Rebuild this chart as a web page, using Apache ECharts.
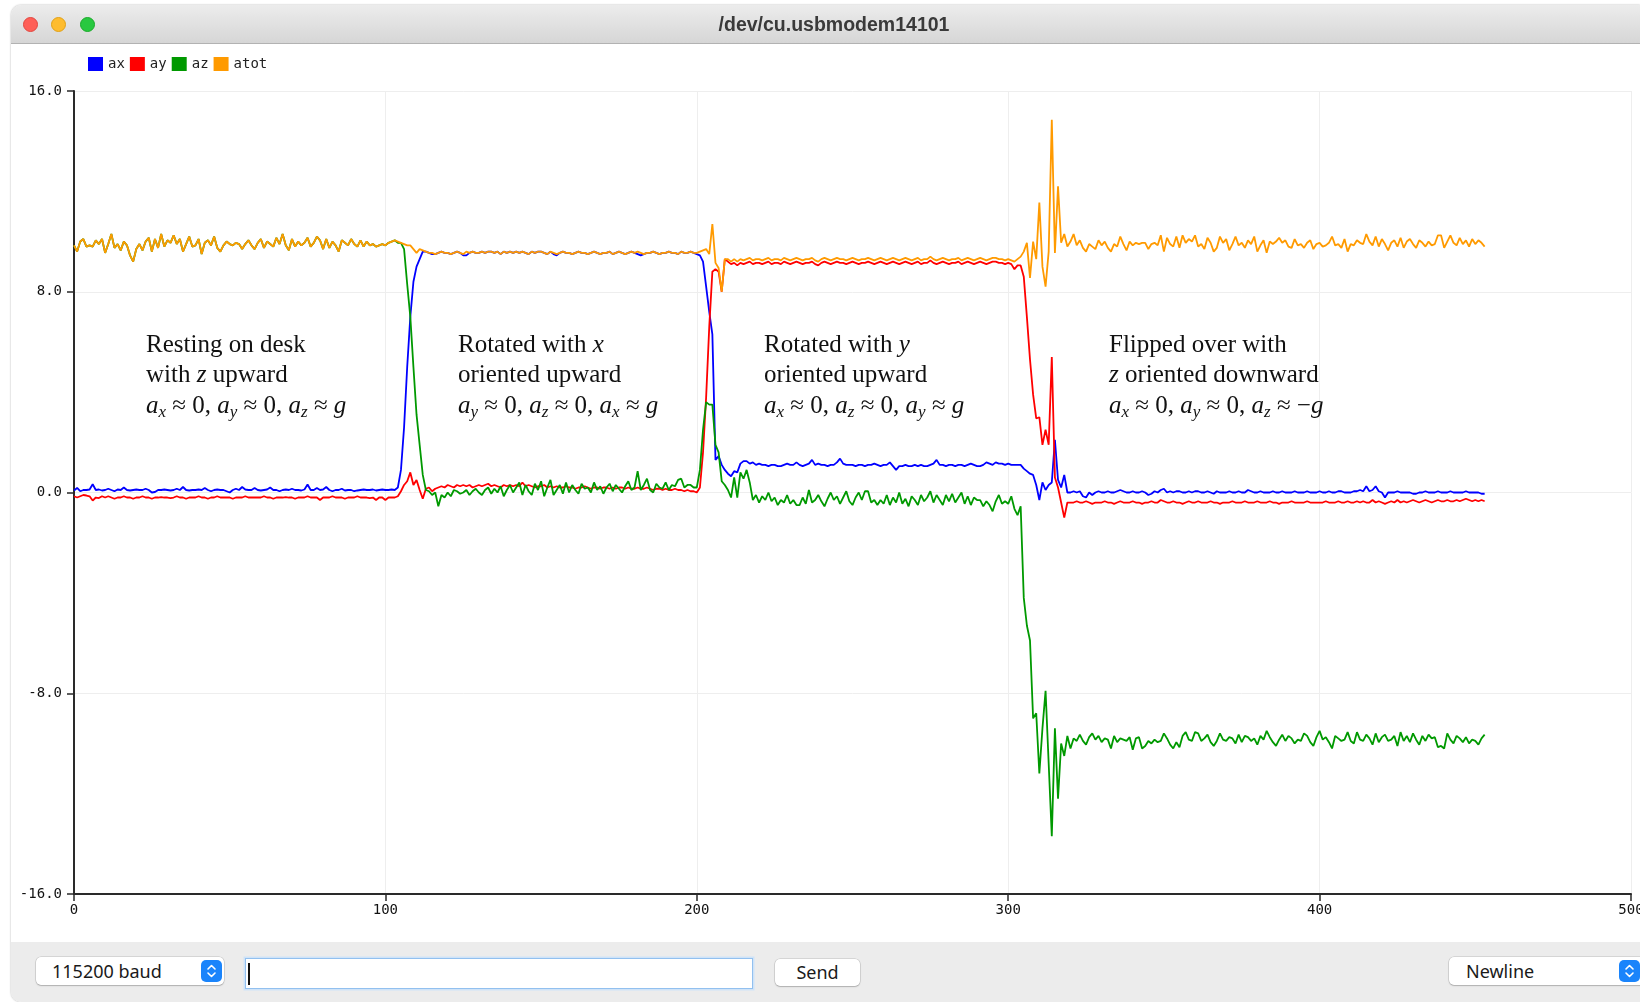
<!DOCTYPE html>
<html>
<head>
<meta charset="utf-8">
<title>/dev/cu.usbmodem14101</title>
<script src="https://cdn.jsdelivr.net/npm/echarts@6/dist/echarts.min.js"></script>
<style>
  html, body { margin: 0; padding: 0; background: #fff; }
  body { width: 1640px; height: 1002px; position: relative; overflow: hidden; font-family: "Noto Sans", "Liberation Sans", sans-serif; }
  .frame { position: absolute; left: 11px; top: 5px; right: 0; bottom: 0; background: #fff; border-radius: 10px 0 0 10px; box-shadow: 0 0 2px rgba(0,0,0,.35); }
  #chart { position: absolute; left: 0; top: 0; width: 1640px; height: 1002px; }
  .titlebar { position: absolute; left: 11px; top: 5px; right: 0; height: 38px; background: linear-gradient(#ececec, #d6d6d6); border-bottom: 1px solid #b2b2b2; border-radius: 10px 0 0 0; }
  .light { position: absolute; top: 12px; width: 15px; height: 15px; border-radius: 50%; box-sizing: border-box; }
  .title { position: absolute; left: 823px; top: 8px; transform: translateX(-50%); font-family: "Liberation Sans", sans-serif; font-weight: bold; font-size: 19.5px; color: #3a3a3a; white-space: nowrap; }
  .bottombar { position: absolute; left: 11px; top: 942px; right: 0; height: 60px; background: #ececec; border-radius: 0 0 0 10px; }
  .box { position: absolute; background: #fff; border-radius: 5px; box-shadow: 0 0 0 0.5px rgba(0,0,0,.18), 0 1px 1.5px rgba(0,0,0,.18); font-size: 18px; color: #1a1a1a; line-height: 28px; box-sizing: border-box; white-space: nowrap; overflow: hidden; }
  .stepper { position: absolute; width: 21px; height: 22px; border-radius: 5px; background: #1a84fb; }
  .input { position: absolute; left: 245px; top: 958px; width: 508px; height: 31px; box-sizing: border-box; background: #fff; border: 1.5px solid #92c0ef; box-shadow: 0 0 0 1.5px #cfe3f8; }
  .caret { position: absolute; left: 248px; top: 963px; width: 1.5px; height: 22px; background: #111; }
</style>
</head>
<body>
<div class="frame"></div>
<div id="chart"></div>
<div class="titlebar">
  <div class="light" style="left:12px;background:#fe5f57;border:0.5px solid #e2463f"></div>
  <div class="light" style="left:40px;background:#febc2e;border:0.5px solid #e1a116"></div>
  <div class="light" style="left:69px;background:#28c840;border:0.5px solid #1aab29"></div>
  <div class="title">/dev/cu.usbmodem14101</div>
</div>
<div class="bottombar"></div>
<div class="box" style="left:36px;top:957px;width:188px;height:28px;padding-left:16px">115200 baud</div>
<svg class="stepper" style="left:201px;top:960px" viewBox="0 0 21 22"><path d="M7 9 L10.5 5.5 L14 9 M7 13 L10.5 16.5 L14 13" stroke="#fff" stroke-width="1.6" fill="none" stroke-linecap="round" stroke-linejoin="round"/></svg>
<div class="input"></div>
<div class="caret"></div>
<div class="box" style="left:775px;top:959px;width:85px;height:27px;line-height:27px;text-align:center">Send</div>
<div class="box" style="left:1449px;top:957px;width:200px;height:28px;padding-left:17px">Newline</div>
<svg class="stepper" style="left:1619px;top:960px" viewBox="0 0 21 22"><path d="M7 9 L10.5 5.5 L14 9 M7 13 L10.5 16.5 L14 13" stroke="#fff" stroke-width="1.6" fill="none" stroke-linecap="round" stroke-linejoin="round"/></svg>

<script>
// series names and colours of the serial plotter
const seriesNames = ['ax', 'ay', 'az', 'atot'];
const seriesColors = ['#0000ff', '#ff0000', '#009900', '#ff9a00'];

// one sample per x step, 10 per row (row k holds samples 10k..10k+9)
const ax = [
  0.08, 0.18, 0.05, 0.1, 0.1, 0.12, 0.33, 0.1, 0.12, 0.08,
  0.1, 0.15, 0.1, 0.05, 0.12, 0.1, 0.2, 0.1, 0.08, 0.1,
  0.12, 0.1, 0.1, 0.15, 0.1, 0.0, 0.02, 0.1, 0.1, 0.12,
  0.1, 0.08, 0.1, 0.15, 0.1, 0.22, 0.1, 0.08, 0.1, 0.1,
  0.12, 0.1, 0.18, 0.1, 0.05, 0.1, 0.12, 0.1, 0.1, 0.05,
  0.0, 0.1, 0.15, 0.1, 0.22, 0.12, 0.1, 0.1, 0.18, 0.1,
  0.08, 0.1, 0.12, 0.2, 0.1, 0.1, 0.05, 0.1, 0.12, 0.1,
  0.15, 0.1, 0.1, 0.08, 0.12, 0.32, 0.1, 0.1, 0.18, 0.1,
  0.12, 0.22, 0.1, 0.05, 0.1, 0.1, 0.15, 0.08, 0.1, 0.1,
  0.05, 0.08, 0.1, 0.12, 0.1, 0.1, 0.12, 0.08, 0.1, 0.12,
  0.1, 0.1, 0.12, 0.1, 0.2, 0.9, 2.6, 5.0, 7.0, 8.4,
  9.0, 9.3, 9.6, 9.6, 9.55, 9.5, 9.5, 9.55, 9.6, 9.55,
  9.55, 9.5, 9.55, 9.6, 9.55, 9.45, 9.45, 9.55, 9.6, 9.55,
  9.55, 9.6, 9.55, 9.6, 9.6, 9.55, 9.6, 9.5, 9.6, 9.55,
  9.6, 9.55, 9.6, 9.55, 9.6, 9.55, 9.5, 9.6, 9.55, 9.6,
  9.6, 9.55, 9.5, 9.6, 9.5, 9.45, 9.55, 9.6, 9.55, 9.55,
  9.5, 9.55, 9.6, 9.55, 9.55, 9.5, 9.55, 9.6, 9.55, 9.5,
  9.55, 9.55, 9.6, 9.5, 9.55, 9.6, 9.55, 9.5, 9.55, 9.6,
  9.55, 9.5, 9.45, 9.5, 9.55, 9.55, 9.6, 9.55, 9.5, 9.55,
  9.55, 9.6, 9.55, 9.55, 9.5, 9.6, 9.55, 9.55, 9.6, 9.55,
  9.5, 9.45, 9.2, 8.2, 7.2, 6.3, 1.3, 1.45, 1.1, 0.9,
  0.75, 0.65, 0.85, 0.8, 1.15, 1.25, 1.25, 1.15, 1.2, 1.1,
  1.15, 1.1, 1.1, 1.05, 1.1, 1.1, 1.05, 1.05, 1.1, 1.15,
  1.1, 1.1, 1.2, 1.1, 1.05, 1.1, 1.15, 1.3, 1.1, 1.15,
  1.1, 1.1, 1.05, 1.1, 1.1, 1.2, 1.35, 1.15, 1.1, 1.1,
  1.1, 1.05, 1.1, 1.1, 1.05, 1.1, 1.1, 1.15, 1.1, 1.05,
  1.1, 1.1, 1.2, 1.05, 0.9, 1.05, 1.05, 1.1, 1.05, 1.05,
  1.1, 1.05, 1.1, 1.05, 1.05, 1.1, 1.15, 1.3, 1.1, 1.1,
  1.05, 1.1, 1.1, 1.05, 1.1, 1.1, 1.05, 1.1, 1.15, 1.1,
  1.05, 1.05, 1.1, 1.2, 1.15, 1.1, 1.2, 1.15, 1.15, 1.1,
  1.15, 1.1, 1.1, 1.1, 1.1, 0.95, 0.85, 0.75, 0.7, 0.3,
  -0.3, 0.4, 0.1, 0.3, 0.4, 2.1, 0.5, 0.2, 0.7, 0.0,
  0.0, 0.05, 0.0, 0.05, -0.15, -0.2, 0.0, -0.1, 0.0, 0.05,
  0.0, 0.0, 0.05, 0.0, 0.0, 0.05, 0.1, 0.05, 0.0, 0.0,
  0.05, 0.0, 0.0, 0.05, 0.0, -0.1, -0.05, 0.05, 0.0, 0.1,
  0.15, 0.0, 0.05, 0.0, 0.05, 0.05, 0.0, 0.0, 0.05, 0.0,
  0.05, 0.05, 0.0, 0.0, 0.05, 0.0, -0.05, 0.05, 0.0, 0.0,
  0.0, 0.05, 0.0, 0.0, 0.05, 0.0, 0.0, 0.1, 0.05, 0.0,
  0.0, 0.05, 0.0, 0.0, 0.0, 0.05, 0.0, 0.0, 0.05, 0.0,
  0.0, 0.0, 0.05, 0.0, 0.0, 0.0, 0.05, 0.0, 0.0, 0.0,
  0.05, 0.0, 0.0, 0.05, 0.0, 0.0, 0.05, 0.05, 0.0, 0.0,
  0.0, 0.05, 0.05, 0.1, 0.05, 0.25, 0.05, 0.1, 0.25, 0.05,
  0.0, -0.2, 0.0, 0.0, 0.0, 0.05, 0.0, 0.0, 0.0, 0.0,
  -0.05, -0.05, 0.0, 0.0, 0.05, 0.0, 0.0, 0.0, 0.05, 0.0,
  0.0, 0.0, 0.05, 0.0, 0.0, 0.0, 0.0, 0.05, 0.0, 0.0,
  0.0, 0.0, -0.05, -0.05
];

const ay = [
  -0.15, -0.2, -0.15, -0.1, -0.12, -0.15, -0.32, -0.2, -0.22, -0.15,
  -0.2, -0.15, -0.2, -0.25, -0.2, -0.2, -0.15, -0.2, -0.2, -0.25,
  -0.2, -0.2, -0.15, -0.2, -0.2, -0.25, -0.2, -0.2, -0.18, -0.2,
  -0.2, -0.22, -0.2, -0.15, -0.2, -0.2, -0.25, -0.2, -0.2, -0.2,
  -0.15, -0.2, -0.2, -0.25, -0.2, -0.2, -0.15, -0.2, -0.2, -0.2,
  -0.2, -0.25, -0.2, -0.2, -0.2, -0.15, -0.2, -0.2, -0.2, -0.2,
  -0.2, -0.15, -0.2, -0.2, -0.25, -0.2, -0.2, -0.2, -0.18, -0.2,
  -0.2, -0.25, -0.2, -0.2, -0.2, -0.15, -0.2, -0.2, -0.2, -0.3,
  -0.2, -0.2, -0.2, -0.15, -0.2, -0.2, -0.2, -0.25, -0.2, -0.2,
  -0.2, -0.15, -0.2, -0.2, -0.2, -0.22, -0.2, -0.3, -0.2, -0.2,
  -0.3, -0.2, -0.2, -0.2, -0.15, 0.05, 0.3, 0.45, 0.8, 0.3,
  0.5, 0.1, -0.25, 0.15, 0.2, 0.05, 0.15, 0.2, 0.25, 0.2,
  0.3, 0.25, 0.2, 0.3, 0.25, 0.3, 0.25, 0.3, 0.2, 0.25,
  0.3, 0.25, 0.3, 0.35, 0.25, 0.3, 0.25, 0.2, 0.3, 0.25,
  0.3, 0.25, 0.3, 0.25, 0.4, 0.25, 0.3, 0.25, 0.2, 0.25,
  0.25, 0.3, 0.2, 0.25, 0.2, 0.25, 0.2, 0.2, 0.25, 0.2,
  0.2, 0.15, 0.2, 0.2, 0.25, 0.2, 0.15, 0.2, 0.2, 0.15,
  0.2, 0.2, 0.15, 0.2, 0.15, 0.2, 0.2, 0.15, 0.2, 0.15,
  0.15, 0.2, 0.15, 0.15, 0.2, 0.15, 0.1, 0.15, 0.15, 0.1,
  0.15, 0.1, 0.1, 0.15, 0.1, 0.1, 0.05, 0.1, 0.05, 0.05,
  0.0, 0.2, 1.6, 3.8, 6.6, 8.8, 8.9, 8.8, 8.0, 9.3,
  9.2, 9.1, 9.15, 9.05, 9.15, 9.1, 9.15, 9.2, 9.1, 9.15,
  9.15, 9.1, 9.15, 9.2, 9.1, 9.15, 9.15, 9.1, 9.2, 9.15,
  9.1, 9.15, 9.2, 9.15, 9.1, 9.15, 9.15, 9.2, 9.1, 9.05,
  9.15, 9.2, 9.15, 9.1, 9.15, 9.2, 9.15, 9.15, 9.1, 9.15,
  9.2, 9.15, 9.1, 9.15, 9.15, 9.2, 9.15, 9.1, 9.15, 9.2,
  9.15, 9.1, 9.15, 9.2, 9.15, 9.1, 9.15, 9.2, 9.15, 9.1,
  9.15, 9.2, 9.1, 9.15, 9.15, 9.25, 9.15, 9.1, 9.15, 9.2,
  9.15, 9.1, 9.15, 9.15, 9.2, 9.1, 9.15, 9.2, 9.15, 9.1,
  9.15, 9.2, 9.15, 9.1, 9.15, 9.2, 9.2, 9.15, 9.15, 9.1,
  9.15, 9.1, 8.9, 9.05, 9.05, 8.6, 7.0, 5.3, 3.9, 2.95,
  3.0, 1.9, 2.5, 1.9, 5.4, 0.6, 0.2, -0.4, -1.0, -0.4,
  -0.4, -0.4, -0.35, -0.4, -0.4, -0.35, -0.4, -0.45, -0.4, -0.4,
  -0.4, -0.35, -0.4, -0.4, -0.45, -0.4, -0.35, -0.4, -0.4, -0.4,
  -0.35, -0.4, -0.4, -0.45, -0.4, -0.4, -0.35, -0.4, -0.4, -0.3,
  -0.35, -0.4, -0.4, -0.35, -0.4, -0.4, -0.45, -0.4, -0.35, -0.4,
  -0.4, -0.35, -0.4, -0.4, -0.4, -0.35, -0.4, -0.4, -0.45, -0.4,
  -0.4, -0.4, -0.35, -0.4, -0.4, -0.4, -0.35, -0.4, -0.4, -0.4,
  -0.35, -0.4, -0.4, -0.4, -0.35, -0.4, -0.4, -0.45, -0.4, -0.4,
  -0.4, -0.35, -0.4, -0.4, -0.4, -0.4, -0.35, -0.4, -0.4, -0.4,
  -0.4, -0.4, -0.35, -0.4, -0.4, -0.4, -0.35, -0.4, -0.4, -0.35,
  -0.4, -0.4, -0.35, -0.4, -0.35, -0.4, -0.4, -0.3, -0.4, -0.35,
  -0.4, -0.45, -0.4, -0.35, -0.4, -0.3, -0.4, -0.35, -0.4, -0.35,
  -0.3, -0.35, -0.4, -0.35, -0.3, -0.35, -0.4, -0.35, -0.3, -0.35,
  -0.35, -0.3, -0.35, -0.35, -0.3, -0.35, -0.3, -0.25, -0.3, -0.35,
  -0.3, -0.35, -0.3, -0.35
];

const az = [
  9.85, 9.6, 10.0, 10.1, 9.8, 9.85, 9.8, 10.05, 9.9, 10.1,
  9.55, 9.9, 10.3, 9.75, 9.9, 9.65, 10.0, 9.85, 9.45, 9.2,
  9.7, 9.9, 9.65, 10.0, 10.15, 9.6, 10.1, 9.75, 10.3, 9.8,
  10.05, 9.95, 10.25, 9.9, 10.1, 9.6, 9.9, 10.2, 9.8, 9.85,
  10.1, 9.5, 9.95, 10.05, 9.85, 10.2, 9.75, 9.6, 9.85, 10.0,
  9.9, 9.85, 9.95, 9.9, 9.7, 9.9, 10.05, 9.85, 9.7, 9.95,
  10.1, 9.75, 10.0, 9.9, 9.8, 10.15, 9.9, 10.3, 9.85, 9.65,
  10.1, 9.8, 10.0, 9.85, 9.95, 10.15, 9.8, 9.95, 10.2, 10.05,
  9.7, 10.1, 9.75, 10.0, 9.85, 9.6, 10.05, 9.95, 9.85, 10.1,
  9.9, 9.8, 10.05, 9.8, 10.0, 9.85, 9.9, 9.8, 9.85, 9.9,
  9.85, 9.95, 10.0, 10.05, 9.95, 9.95, 9.7, 8.3, 7.0, 5.0,
  3.1, 1.9, 0.7, 0.1, 0.05, -0.1, 0.0, -0.55, -0.1, -0.2,
  0.0, -0.15, 0.1, 0.05, -0.05, 0.0, 0.1, -0.1, 0.05, 0.15,
  0.0, -0.1, 0.1, 0.2, -0.05, 0.15, 0.0, 0.25, -0.15, 0.1,
  0.3, 0.0, 0.2, 0.4, -0.1, 0.3, 0.05, -0.1, 0.35, 0.1,
  0.45, -0.15, 0.2, 0.5, -0.1, 0.1, 0.3, -0.05, 0.4, 0.0,
  0.3, 0.1, -0.05, 0.35, 0.15, 0.2, 0.0, 0.4, 0.1, 0.25,
  -0.05, 0.2, 0.35, 0.05, 0.3, 0.15, 0.0, 0.25, 0.45, 0.1,
  0.2, 0.85, 0.1, 0.3, 0.55, 0.1, 0.0, 0.35, 0.2, 0.15,
  0.4, 0.1, 0.3, 0.25, 0.5, 0.55, 0.2, 0.3, 0.3, 0.2,
  0.2, 0.9, 2.5, 3.6, 3.5, 3.5, 1.9, 1.6, 0.45, 0.3,
  0.1, -0.2, 0.6, -0.2, 0.8, 0.55, 0.9, 0.4, -0.3, -0.1,
  -0.4, -0.15, -0.3, 0.0, -0.35, -0.2, -0.5, -0.3, -0.4, -0.1,
  -0.45, -0.3, -0.5, -0.5, -0.2, -0.45, 0.1, -0.4, -0.3, -0.1,
  -0.35, -0.55, -0.25, 0.0, -0.3, -0.15, -0.45, -0.2, 0.05, -0.35,
  -0.5, -0.2, 0.0, -0.3, 0.05, 0.05, -0.4, -0.3, -0.5, -0.3,
  -0.45, -0.1, -0.5, -0.2, -0.4, 0.0, -0.45, -0.25, -0.55, -0.15,
  -0.3, -0.5, -0.1, -0.35, -0.2, 0.05, -0.4, -0.1, -0.3, -0.5,
  -0.1, -0.35, -0.05, -0.4, -0.2, 0.0, -0.45, -0.15, -0.5, -0.2,
  -0.3, -0.3, -0.55, -0.35, -0.5, -0.75, -0.35, -0.1, -0.45, -0.35,
  -0.45, -0.15, -0.65, -0.9, -0.55, -4.2, -5.3, -5.9, -9.0, -8.8,
  -11.2, -9.4, -7.9, -10.8, -13.7, -9.4, -12.2, -10.0, -10.5, -9.7,
  -10.2, -9.8, -9.9, -9.65, -9.9, -10.05, -9.75, -9.6, -9.85, -9.7,
  -9.95, -9.8, -9.85, -10.2, -9.7, -9.95, -9.8, -9.85, -9.9, -9.75,
  -10.25, -9.8, -9.75, -10.2, -10.1, -9.9, -10.0, -9.85, -9.95, -9.9,
  -9.6, -9.8, -10.05, -10.2, -9.95, -10.15, -9.7, -9.55, -9.85, -9.9,
  -9.55, -9.6, -9.9, -9.8, -9.65, -9.95, -10.1, -9.9, -9.6, -9.85,
  -9.9, -9.75, -9.8, -10.0, -9.65, -9.95, -9.7, -9.75, -9.9, -9.8,
  -10.05, -9.7, -9.85, -9.5, -9.75, -9.95, -10.1, -9.85, -9.65, -9.9,
  -9.7, -9.8, -10.0, -9.85, -9.9, -9.6, -9.7, -9.95, -10.1, -9.75,
  -9.5, -9.85, -9.75, -9.95, -10.2, -9.7, -9.8, -9.9, -9.85, -9.55,
  -9.9, -10.0, -9.55, -9.85, -9.9, -9.65, -9.8, -10.05, -9.6, -9.95,
  -9.75, -9.65, -9.9, -9.85, -9.7, -10.1, -9.55, -9.9, -9.7, -9.95,
  -9.6, -9.85, -10.05, -9.7, -9.9, -9.65, -9.8, -9.75, -10.15, -10.1,
  -10.2, -9.6, -9.85, -10.0, -9.7, -9.8, -9.95, -9.75, -10.0, -9.85,
  -9.9, -10.05, -9.8, -9.65
];

const atot = [
  9.85, 9.6, 10.0, 10.1, 9.8, 9.85, 9.8, 10.05, 9.9, 10.1,
  9.55, 9.9, 10.3, 9.75, 9.9, 9.65, 10.0, 9.85, 9.45, 9.2,
  9.7, 9.9, 9.65, 10.0, 10.15, 9.6, 10.1, 9.75, 10.3, 9.8,
  10.05, 9.95, 10.25, 9.9, 10.1, 9.6, 9.9, 10.2, 9.8, 9.85,
  10.1, 9.5, 9.95, 10.05, 9.85, 10.2, 9.75, 9.6, 9.85, 10.0,
  9.9, 9.85, 9.95, 9.9, 9.7, 9.9, 10.05, 9.85, 9.7, 9.95,
  10.1, 9.75, 10.0, 9.9, 9.8, 10.15, 9.9, 10.3, 9.85, 9.65,
  10.1, 9.8, 10.0, 9.85, 9.95, 10.15, 9.8, 9.95, 10.2, 10.05,
  9.7, 10.1, 9.75, 10.0, 9.85, 9.6, 10.05, 9.95, 9.85, 10.1,
  9.9, 9.8, 10.05, 9.8, 10.0, 9.85, 9.9, 9.8, 9.85, 9.9,
  9.85, 9.95, 10.0, 10.05, 10.0, 9.95, 9.9, 9.85, 9.85, 9.7,
  9.55, 9.7, 9.65, 9.6, 9.55, 9.55, 9.5, 9.55, 9.6, 9.55,
  9.55, 9.5, 9.55, 9.6, 9.55, 9.5, 9.6, 9.55, 9.6, 9.55,
  9.55, 9.6, 9.55, 9.6, 9.6, 9.55, 9.6, 9.5, 9.6, 9.55,
  9.6, 9.55, 9.6, 9.55, 9.6, 9.55, 9.5, 9.6, 9.55, 9.6,
  9.6, 9.55, 9.5, 9.6, 9.55, 9.5, 9.55, 9.6, 9.55, 9.55,
  9.5, 9.55, 9.6, 9.55, 9.55, 9.5, 9.55, 9.6, 9.55, 9.5,
  9.55, 9.55, 9.6, 9.5, 9.55, 9.6, 9.55, 9.5, 9.55, 9.6,
  9.55, 9.6, 9.55, 9.5, 9.55, 9.55, 9.6, 9.55, 9.5, 9.55,
  9.55, 9.6, 9.55, 9.55, 9.5, 9.6, 9.55, 9.55, 9.6, 9.55,
  9.55, 9.6, 9.65, 9.7, 9.5, 10.7, 9.15, 8.95, 8.0, 9.3,
  9.3, 9.2, 9.3, 9.2, 9.3, 9.25, 9.3, 9.35, 9.25, 9.3,
  9.3, 9.25, 9.3, 9.35, 9.25, 9.3, 9.3, 9.25, 9.35, 9.3,
  9.25, 9.3, 9.35, 9.3, 9.25, 9.3, 9.3, 9.35, 9.25, 9.2,
  9.3, 9.35, 9.3, 9.25, 9.3, 9.35, 9.3, 9.3, 9.25, 9.3,
  9.35, 9.3, 9.25, 9.3, 9.3, 9.35, 9.3, 9.25, 9.3, 9.35,
  9.3, 9.25, 9.3, 9.35, 9.3, 9.25, 9.3, 9.35, 9.3, 9.25,
  9.3, 9.35, 9.25, 9.3, 9.3, 9.4, 9.3, 9.25, 9.3, 9.35,
  9.3, 9.25, 9.3, 9.3, 9.35, 9.25, 9.3, 9.35, 9.3, 9.25,
  9.3, 9.35, 9.3, 9.25, 9.3, 9.35, 9.35, 9.3, 9.3, 9.25,
  9.3, 9.25, 9.2, 9.3, 9.4, 9.6, 9.95, 8.55, 10.0, 9.3,
  11.55, 9.0, 8.2, 9.6, 14.85, 9.55, 12.2, 9.95, 10.3, 9.8,
  10.0, 10.3, 9.85, 10.05, 9.75, 9.6, 9.9, 9.8, 9.7, 10.05,
  9.85, 10.0, 9.75, 9.6, 9.9, 9.8, 10.2, 9.9, 9.65, 10.0,
  9.85, 9.95, 9.9, 9.95, 9.95, 9.7, 9.9, 9.95, 9.85, 10.25,
  9.6, 10.15, 9.9, 9.8, 10.2, 9.75, 10.25, 9.95, 10.1, 10.0,
  10.25, 9.8, 9.9, 9.7, 10.15, 9.95, 9.6, 9.75, 10.2, 9.95,
  10.1, 9.65, 9.9, 10.2, 9.85, 9.95, 9.75, 10.05, 9.9, 10.2,
  9.6, 9.85, 10.05, 9.55, 10.0, 9.9, 10.0, 10.15, 9.95, 10.05,
  9.8, 9.75, 10.1, 9.85, 9.9, 9.75, 9.95, 10.05, 9.7, 9.9,
  9.95, 9.8, 9.85, 9.95, 10.2, 9.85, 9.9, 9.75, 10.1, 9.6,
  9.9, 9.85, 10.05, 9.95, 9.9, 10.3, 10.0, 9.85, 10.2, 9.8,
  10.1, 9.9, 9.65, 9.95, 10.05, 9.8, 10.15, 9.75, 10.0, 10.1,
  9.9, 9.75, 10.05, 9.95, 9.8, 10.0, 9.85, 9.9, 10.25, 10.25,
  9.75, 10.0, 10.25, 9.95, 9.85, 10.15, 9.9, 10.05, 9.8, 10.1,
  9.9, 10.05, 9.95, 9.8
];

// axis ranges
const xMin = 0, xMax = 500, xStep = 100;
const yMin = -16, yMax = 16, yStep = 8;

// annotation texts (rich text: i = italic, s = subscript)
const notes = [
  ['Resting on desk', 'with {i|z} upward', '{i|a}{s|x} ≈ 0, {i|a}{s|y} ≈ 0, {i|a}{s|z} ≈ {i|g}'],
  ['Rotated with {i|x}', 'oriented upward', '{i|a}{s|y} ≈ 0, {i|a}{s|z} ≈ 0, {i|a}{s|x} ≈ {i|g}'],
  ['Rotated with {i|y}', 'oriented upward', '{i|a}{s|x} ≈ 0, {i|a}{s|z} ≈ 0, {i|a}{s|y} ≈ {i|g}'],
  ['Flipped over with', '{i|z} oriented downward', '{i|a}{s|x} ≈ 0, {i|a}{s|y} ≈ 0, {i|a}{s|z} ≈ −{i|g}']
];
const noteLeft = [146, 458, 764, 1109];

const seriesData = [ax, ay, az, atot];
const chart = echarts.init(document.getElementById('chart'));

const axisFont = { fontFamily: 'DejaVu Sans Mono', fontSize: 14, color: '#111' };
const axisLineStyle = { color: '#2a2a2a', width: 2 };

const option = {
  animation: false,
  color: seriesColors,
  legend: {
    left: 88,
    top: 57,
    padding: 0,
    icon: 'rect',
    itemWidth: 15,
    itemHeight: 14,
    itemGap: 5,
    textStyle: { fontFamily: 'DejaVu Sans Mono', fontSize: 14, color: '#222' },
    data: seriesNames
  },
  grid: { left: 74, right: 9, top: 91, bottom: 108, outerBoundsMode: 'none', containLabel: false },
  xAxis: {
    type: 'value',
    min: xMin, max: xMax, interval: xStep,
    axisLine: { show: true, onZero: false, lineStyle: axisLineStyle },
    axisTick: { show: true, length: 7, lineStyle: { color: '#2a2a2a', width: 1.5 } },
    axisLabel: Object.assign({ margin: 9 }, axisFont),
    splitLine: { show: true, lineStyle: { color: '#eeeeee', width: 1 } }
  },
  yAxis: {
    type: 'value',
    min: yMin, max: yMax, interval: yStep,
    axisLine: { show: true, onZero: false, lineStyle: axisLineStyle },
    axisTick: { show: true, length: 7, lineStyle: { color: '#2a2a2a', width: 1.5 } },
    axisLabel: Object.assign({ margin: 12, formatter: v => v.toFixed(1) }, axisFont),
    splitLine: { show: true, lineStyle: { color: '#eeeeee', width: 1 } }
  },
  series: seriesNames.map((name, k) => ({
    name: name,
    type: 'line',
    symbol: 'none',
    showSymbol: false,
    data: seriesData[k].map((v, i) => [i, v]),
    lineStyle: { width: 1.8, color: seriesColors[k] },
    itemStyle: { color: seriesColors[k] },
    emphasis: { disabled: true }
  })),
  graphic: notes.map((lines, n) => ({
    type: 'text',
    left: noteLeft[n],
    top: 330,
    z: 100,
    style: {
      text: lines.join('\n'),
      fill: '#111',
      fontFamily: 'Liberation Serif',
      fontSize: 25,
      lineHeight: 30.5,
      rich: {
        i: { fill: '#111', fontFamily: 'Liberation Serif', fontStyle: 'italic', fontSize: 25 },
        s: { fill: '#111', fontFamily: 'Liberation Serif', fontStyle: 'italic', fontSize: 17, lineHeight: 14, verticalAlign: 'bottom' }
      }
    }
  }))
};

chart.setOption(option);
</script>
</body>
</html>
